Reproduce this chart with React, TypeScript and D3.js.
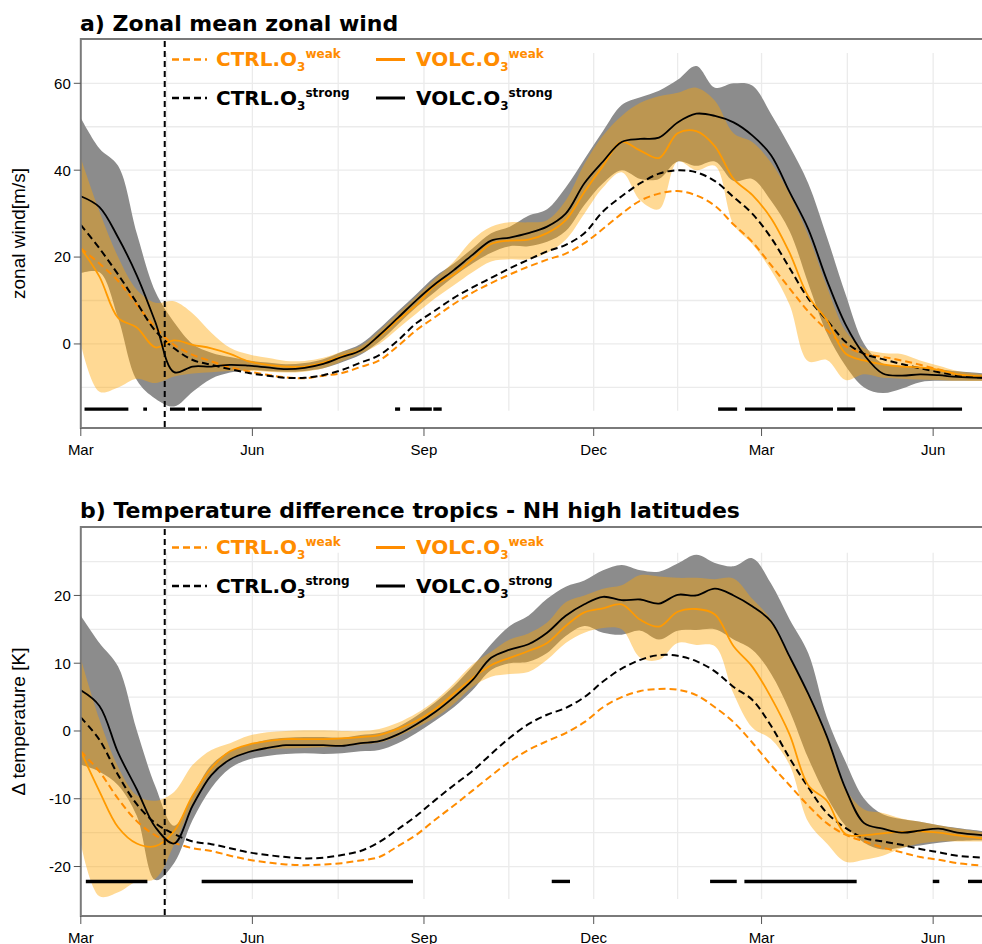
import * as d3 from "d3";
import { useRef, useEffect } from "react";

const WIDTH = 982;
const HEIGHT = 944;

const startDate = new Date(Date.UTC(2001, 2, 1));
const endDate = new Date(Date.UTC(2002, 5, 28));
const eruptionDate = new Date(Date.UTC(2001, 3, 15));
const monthTicks = ["2001-03-01", "2001-06-01", "2001-09-01", "2001-12-01", "2002-03-01", "2002-06-01"];

const days = d3.range(0, 480, 10).concat(485);

// ---- a) zonal mean zonal wind [m/s]
const windCtrlWeak = [22,18.5,14.5,9,3.8,-0.2,-2.5,-4,-5.4,-6.3,-7.1,-7.7,-7.9,-7.3,-6.7,-5.3,-3.8,-0.5,3.2,6.2,9.2,11.8,14,16,17.8,19.4,20.8,23.2,26.5,30,33,34.6,35.2,34.2,31.8,27.5,23.5,18.2,12.8,7.5,3.2,-0.5,-2.3,-3,-3.8,-4.8,-5.9,-7,-7.8];
const windCtrlStrong = [27.4,22,16,9.5,3,-1,-3.7,-4.8,-5.8,-6.7,-7.3,-7.8,-7.8,-7.2,-6,-4.3,-2.6,0.8,4.8,7.7,10.6,13,15.2,17.4,19.4,21.3,22.8,25.5,30.5,34,37,39.2,40,39.5,37.5,33.8,30,24.5,17.5,10.5,5.5,0.5,-2.3,-3.5,-4.6,-5.6,-6.5,-7.2,-7.8];
const windVolcWeak = [22,15.5,6,3.8,-0.8,0.8,-0.2,-1,-2.3,-4,-4.8,-5.2,-5.2,-4.3,-2.8,-1.4,1.8,5.5,9,13.5,16,19.5,23,23.8,24,25.5,28.5,35,41,46.5,44.5,42.8,48.5,49,45.5,38,34.3,29,21,11,5.5,-2.2,-3.8,-4.7,-5.2,-5.4,-6,-7,-7.5];
const windVolcStrong = [34,31.5,24.5,15.8,5,-6.5,-5.2,-5.2,-4.8,-5,-5.4,-5.8,-5.5,-4.6,-3,-1.5,2,6,10.1,13.8,17,20.5,23.8,24.5,25.5,27,30,37,42,46.5,47.2,47.5,51,53,52.5,51,48,43.5,35,26.5,14.7,4.5,-2.5,-6.8,-7.3,-7,-7.2,-7.6,-7.8];
const windWeakUpper = [42.8,30.5,20,12.5,9.5,9.8,7,2.6,-0.9,-2.4,-3.2,-3.9,-3.9,-3.2,-1.8,-0.5,3,7,11,15,19,24,27,28,28,28.5,33,41.4,48,52.5,55.5,57,57.8,59,56,48.5,46.5,41.8,34.5,25,13.2,3,-1,-2.1,-2.3,-3.8,-5,-6.2,-7];
const windWeakLower = [0,-11,-10,-8,-9,-7.5,-6.8,-6.5,-6.2,-6.2,-6.4,-6.6,-6.4,-5.6,-4,-2.2,0,3.5,7,10.5,13.5,16.5,19,19.5,19.5,21,24,30,36,39.5,33,31,42,40,41,27.5,23,17,9,-4,-3.7,-8.3,-7,-7.8,-8,-8.2,-8.3,-8.5,-8.5];
const windStrongUpper = [52,45,41,25.5,12,5,0,-2,-3,-3.8,-4.3,-4.7,-4.4,-3.5,-1.8,0,3.5,7.5,11.5,15.5,18.5,22,25.5,27,29.5,31,36,42.5,49,55,56.8,58.3,60.8,64,59,60,59.5,53,45.5,37,24.7,11.5,0,-4.5,-5,-5.3,-5.8,-6.3,-6.8];
const windStrongLower = [16.3,16.5,6,-8.3,-12.6,-14.4,-11,-8,-6.6,-6,-6.2,-6.4,-6.2,-5.6,-4.2,-2.5,0.5,4.5,8.5,12,15.5,18.5,21,22.5,22.5,23.5,26,32,37,40,38,38,42,41,42,37.5,38,33,26,14,2.5,-5,-10,-11.3,-10.3,-8.8,-8.5,-8.5,-8.5];
// significant periods, [from day, to day]
const windSignificant = [[2,25.5],[33.5,35.5],[47.8,55.9],[57.5,63.4],[64.9,97],[168.5,171.2],[176.5,188.2],[189,193.5],[341.7,351.9],[356.1,403.3],[405.5,415.2],[430.1,472.5]];

// ---- b) temperature difference tropics - NH high latitudes [K]
const tempCtrlWeak = [-3,-6,-10,-13.3,-15.4,-16.5,-17.3,-17.7,-18.4,-19,-19.4,-19.7,-19.8,-19.7,-19.5,-19.1,-18.6,-17,-15.3,-13.1,-11,-8.8,-6.6,-4.5,-2.8,-1.5,-0.3,1.3,3.5,5,5.9,6.2,6.1,5.3,3.5,1.3,-1.7,-5,-8,-11,-13.6,-15.3,-16.3,-17.2,-17.9,-18.6,-19,-19.5,-19.9];
const tempCtrlStrong = [2,-1.3,-6.5,-10.8,-13.6,-15.2,-16.3,-16.7,-17.3,-17.9,-18.3,-18.6,-18.8,-18.7,-18.3,-17.7,-16.4,-14.5,-12.5,-10.2,-8,-5.9,-3.4,-1,1,2.4,3.4,5,7.3,9.2,10.5,11.2,11.1,10.3,8.8,6.5,4.6,0.8,-4,-8.3,-12.1,-14.3,-15.8,-16.3,-16.8,-17.4,-17.9,-18.4,-18.7];
const tempVolcWeak = [-3,-8.9,-14.2,-16.6,-17,-14.8,-9.5,-5.5,-3,-2,-1.5,-1.2,-1.2,-1.2,-1.1,-0.9,-0.6,0.3,1.5,3.2,5.5,7.8,9.7,10.8,11.8,13,15.5,17.5,18.1,18.7,16.4,15.4,17.6,18,17.2,12.5,9.5,5,-0.5,-8,-10.3,-15.2,-15.4,-15.1,-14.9,-14.8,-15,-15.4,-15.9];
const tempVolcStrong = [6,3.7,-3.2,-8.6,-14.2,-16.6,-11,-6.5,-4.2,-3.1,-2.5,-2.1,-2.1,-2.1,-2.2,-1.8,-1.5,-0.5,1,2.8,5,7.5,10.8,12,12.8,14.5,17,18.7,19.8,19.3,19.4,18.8,20.1,20,21,20,18.4,16.2,11,5.5,-0.8,-8.5,-13.6,-14.4,-15,-14.7,-14.4,-15,-15.4];
const tempWeakUpper = [10.7,1.7,-5.3,-9.5,-10.3,-9,-5,-2.8,-1.8,-0.7,-0.2,0,0.1,0.1,0,0,0.3,1.2,2.6,4.5,7,9.8,11.7,13.5,14.4,16,19,20,21,21.5,23,22.8,22.6,22.6,22.4,22.5,19.5,16.5,11,5.5,-0.8,-8.5,-11.6,-12.1,-12.9,-13.4,-13.9,-14.4,-15];
const tempWeakLower = [-16.6,-24.4,-23.8,-22.2,-21.8,-16.8,-10.7,-6.5,-4.2,-3.2,-2.7,-2.6,-2.5,-2.4,-2.3,-2,-1.7,-0.8,0.5,2,4,6.5,8,8.4,8.7,10.5,13,14.5,15.2,15,10.8,10.5,13,12.7,12.5,5.5,0.5,-1.2,-5,-13.4,-16.6,-19.3,-19,-18.4,-17.3,-16.6,-16.3,-16.3,-16.3];
const tempStrongUpper = [17,13,9.5,0.1,-8.2,-14,-9.5,-5,-3,-2,-1.3,-1,-0.9,-0.9,-1,-0.6,-0.3,0.6,2.2,4.2,6.6,9.5,12.8,15.5,17,19.5,21.3,22.2,23.7,24.5,23.7,23.5,24.7,26,24.8,24.3,25.5,21.8,16.5,11.5,2,-4.5,-10,-12.3,-13,-13.4,-13.9,-14.3,-14.8];
const tempStrongLower = [-5,-6,-8,-12.5,-22,-19.5,-13.1,-8.4,-5.5,-4.2,-3.7,-3.4,-3.3,-3.4,-3.3,-3,-2.8,-1.8,-0.3,1.5,3.5,6,9,10,10.2,11.5,14,15.5,14.5,14.2,14.8,13.5,14.8,14.9,15,13.5,12,8.5,3,-4,-9.7,-14,-16.5,-17.5,-17.2,-16.9,-16.5,-16.2,-16.1];
const tempSignificant = [[2.7,35.7],[64.8,178.1],[252.5,262.3],[337.4,351.7],[355.8,416],[456.8,460.3],[475.7,490]];

const legendItems = [
  { name: "CTRL.O", sup: "weak", color: "#ff8c00", dashed: true, col: 0, row: 0 },
  { name: "VOLC.O", sup: "weak", color: "#ff8c00", dashed: false, col: 1, row: 0 },
  { name: "CTRL.O", sup: "strong", color: "#000", dashed: true, col: 0, row: 1 },
  { name: "VOLC.O", sup: "strong", color: "#000", dashed: false, col: 1, row: 1 },
];

const panels = [
  {
    key: "a", title: "a) Zonal mean zonal wind", titleY: 31, ylabel: "zonal wind[m/s]",
    top: 39, bottom: 428, yDomain: [-19.35, 70.2], yTicks: [0, 20, 40, 60], yGrid: d3.range(-10, 61, 10),
    gridSpan: [-15.4, 67], sigY: -15, significant: windSignificant,
    ctrlWeak: windCtrlWeak, ctrlStrong: windCtrlStrong, volcWeak: windVolcWeak, volcStrong: windVolcStrong,
    weakUpper: windWeakUpper, weakLower: windWeakLower, strongUpper: windStrongUpper, strongLower: windStrongLower,
  },
  {
    key: "b", title: "b) Temperature difference tropics - NH high latitudes", titleY: 518, ylabel: "\u0394 temperature [K]",
    top: 527, bottom: 916, yDomain: [-27.3, 30.1], yTicks: [-20, -10, 0, 10, 20], yGrid: d3.range(-20, 26, 5),
    gridSpan: [-24.8, 26.3], sigY: -22.2, significant: tempSignificant,
    ctrlWeak: tempCtrlWeak, ctrlStrong: tempCtrlStrong, volcWeak: tempVolcWeak, volcStrong: tempVolcStrong,
    weakUpper: tempWeakUpper, weakLower: tempWeakLower, strongUpper: tempStrongUpper, strongLower: tempStrongLower,
  },
];

const dayToDate = (d) => new Date(startDate.getTime() + d * 864e5);
const AXIS = "#7a7a7a";
const GRID = "#ebebeb";
const TICKFONT = "'Liberation Sans', Arial, sans-serif";
const TITLEFONT = "'DejaVu Sans', Verdana, sans-serif";

function drawPanel(svg, p) {
  const x = d3.scaleUtc().domain([startDate, endDate]).range([80.8, 983.5]);
  const y = d3.scaleLinear().domain(p.yDomain).range([p.bottom, p.top]);
  const x0 = x(startDate);

  svg.append("clipPath").attr("id", "clip-" + p.key)
    .append("rect").attr("x", x0).attr("y", p.top).attr("width", WIDTH - x0).attr("height", p.bottom - p.top);

  const g = svg.append("g");

  // grid: major months plus the midpoints between them
  const ticks = monthTicks.map((s) => new Date(s));
  const mids = ticks.slice(1).map((t, i) => new Date((t.getTime() + ticks[i].getTime()) / 2));
  g.selectAll(".vgrid").data(ticks.slice(1).concat(mids)).join("line")
    .attr("x1", (d) => x(d)).attr("x2", (d) => x(d))
    .attr("y1", y(p.gridSpan[1])).attr("y2", y(p.gridSpan[0]))
    .attr("stroke", GRID).attr("stroke-width", 1.3);
  g.selectAll(".hgrid").data(p.yGrid).join("line")
    .attr("x1", x0).attr("x2", WIDTH)
    .attr("y1", (d) => y(d)).attr("y2", (d) => y(d))
    .attr("stroke", GRID).attr("stroke-width", 1.3);

  const plot = g.append("g").attr("clip-path", `url(#clip-${p.key})`);

  const band = (lo, hi) => d3.area()
    .x((t) => x(dayToDate(t)))
    .y0((t, i) => y(lo[i]))
    .y1((t, i) => y(hi[i]))
    .curve(d3.curveCatmullRom.alpha(0.5))(days);
  const line = (vals) => d3.line()
    .x((t) => x(dayToDate(t)))
    .y((t, i) => y(vals[i]))
    .curve(d3.curveCatmullRom.alpha(0.5))(days);

  plot.append("path").attr("d", band(p.strongLower, p.strongUpper)).attr("fill", "#8c8c8c");
  plot.append("path").attr("d", band(p.weakLower, p.weakUpper)).attr("fill", "#ffa500").attr("fill-opacity", 0.42);

  plot.append("path").attr("d", line(p.ctrlWeak)).attr("fill", "none")
    .attr("stroke", "#ff8c00").attr("stroke-width", 2).attr("stroke-dasharray", "7,4");
  plot.append("path").attr("d", line(p.ctrlStrong)).attr("fill", "none")
    .attr("stroke", "#000").attr("stroke-width", 2).attr("stroke-dasharray", "7,4");
  plot.append("path").attr("d", line(p.volcWeak)).attr("fill", "none")
    .attr("stroke", "#ff9a00").attr("stroke-width", 1.8);
  plot.append("path").attr("d", line(p.volcStrong)).attr("fill", "none")
    .attr("stroke", "#000").attr("stroke-width", 1.8);

  // significance bars
  plot.selectAll(".sig").data(p.significant).join("line")
    .attr("x1", (d) => x(dayToDate(d[0]))).attr("x2", (d) => x(dayToDate(d[1])))
    .attr("y1", y(p.sigY)).attr("y2", y(p.sigY))
    .attr("stroke", "#000").attr("stroke-width", 3.4);

  // eruption marker
  g.append("line")
    .attr("x1", x(eruptionDate)).attr("x2", x(eruptionDate))
    .attr("y1", p.top + 2).attr("y2", p.bottom)
    .attr("stroke", "#000").attr("stroke-width", 2).attr("stroke-dasharray", "6,4");

  // legend
  const lg = g.append("g");
  const colLine = [[172, 207], [376, 405]];
  const colText = [216, 416];
  const rowBase = [p.top + 27, p.top + 65.5];
  legendItems.forEach((it) => {
    const by = rowBase[it.row];
    lg.append("line")
      .attr("x1", colLine[it.col][0]).attr("x2", colLine[it.col][1])
      .attr("y1", by - 6.5).attr("y2", by - 6.5)
      .attr("stroke", it.color).attr("stroke-width", it.dashed ? 2.6 : 3)
      .attr("stroke-dasharray", it.dashed ? "7,4" : null);
    const t = lg.append("text").attr("x", colText[it.col]).attr("y", by)
      .attr("fill", it.color).style("font-family", TITLEFONT).style("font-weight", "bold").style("font-size", "20px");
    t.append("tspan").text(it.name);
    t.append("tspan").attr("dy", 5).style("font-size", "12px").text("3");
    t.append("tspan").attr("dy", -13).style("font-size", "12px").text(it.sup);
  });

  // frame
  g.append("line").attr("x1", x0).attr("x2", WIDTH).attr("y1", p.top).attr("y2", p.top)
    .attr("stroke", AXIS).attr("stroke-width", 2);
  g.append("line").attr("x1", x0).attr("x2", WIDTH).attr("y1", p.bottom).attr("y2", p.bottom)
    .attr("stroke", AXIS).attr("stroke-width", 2);
  g.append("line").attr("x1", x0).attr("x2", x0).attr("y1", p.top - 1).attr("y2", p.bottom + 1)
    .attr("stroke", AXIS).attr("stroke-width", 2);

  // y axis
  g.selectAll(".ytick").data(p.yTicks).join("line")
    .attr("x1", x0 - 7).attr("x2", x0).attr("y1", (d) => y(d)).attr("y2", (d) => y(d))
    .attr("stroke", "#555").attr("stroke-width", 1);
  g.selectAll(".ylab").data(p.yTicks).join("text")
    .attr("x", x0 - 10).attr("y", (d) => y(d)).attr("dy", "0.36em")
    .attr("text-anchor", "end").style("font-family", TICKFONT).style("font-size", "15px")
    .text((d) => d);

  // x axis
  g.selectAll(".xtick").data(ticks).join("line")
    .attr("x1", (d) => x(d)).attr("x2", (d) => x(d)).attr("y1", p.bottom).attr("y2", p.bottom + 8)
    .attr("stroke", "#555").attr("stroke-width", 1);
  g.selectAll(".xlab").data(ticks).join("text")
    .attr("x", (d) => x(d)).attr("y", p.bottom + 26.5)
    .attr("text-anchor", "middle").style("font-family", TICKFONT).style("font-size", "15px")
    .text((d) => d3.utcFormat("%b")(d));

  // axis title and panel title
  g.append("text")
    .attr("transform", `translate(18,${(p.top + p.bottom) / 2}) rotate(-90)`)
    .attr("text-anchor", "middle").attr("dy", "0.35em")
    .style("font-family", TICKFONT).style("font-size", "19px")
    .text(p.ylabel);
  g.append("text").attr("x", 80).attr("y", p.titleY)
    .style("font-family", TITLEFONT).style("font-weight", "bold").style("font-size", "22px")
    .text(p.title);
}

export default function App() {
  const svgRef = useRef(null);

  useEffect(() => {
    const svg = d3.select(svgRef.current);
    svg.selectAll("*").remove();
    panels.forEach((p) => drawPanel(svg, p));
  }, []);

  return (
    <svg
      ref={svgRef}
      width={WIDTH}
      height={HEIGHT}
      style={{ position: "absolute", left: 0, top: 0, background: "#fff" }}
    />
  );
}
